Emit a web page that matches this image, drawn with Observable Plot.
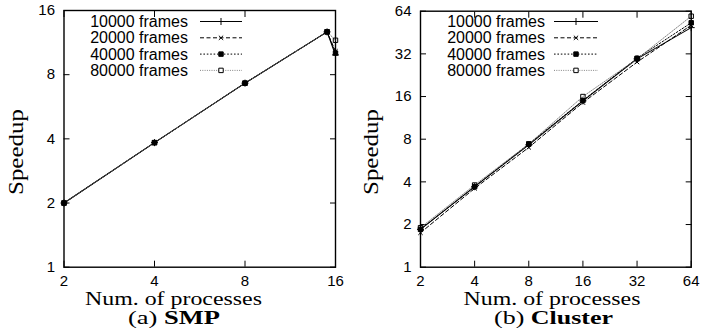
<!DOCTYPE html>
<html><head><meta charset="utf-8">
<script src="https://cdn.jsdelivr.net/npm/d3@7"></script>
<script src="https://cdn.jsdelivr.net/npm/@observablehq/plot@0.6"></script>
<style>
body{margin:0;background:#fff;}
#wrap{display:flex;width:701px;height:335px;overflow:hidden;}
svg text{fill:#000;}
</style></head><body><div id="wrap"></div>
<script>
// ---- data ----
const seriesNames = ["10000 frames", "20000 frames", "40000 frames", "80000 frames"];

const smpProcs = [2, 4, 8, 15, 16];
const smp10000 = [2.0, 3.84, 7.3, 12.7, 9.9];
const smp20000 = [2.0, 3.84, 7.3, 12.7, 10.3];
const smp40000 = [2.0, 3.84, 7.3, 12.7, 10.1];
const smp80000 = [2.0, 3.84, 7.3, 12.7, 11.6];

const clusterProcs = [2, 4, 8, 16, 32, 64];
const cluster10000 = [1.85, 3.7, 7.3, 14.9, 29.5, 49];
const cluster20000 = [1.75, 3.6, 7.0, 14.5, 28.0, 51];
const cluster40000 = [1.85, 3.7, 7.4, 15.0, 29.8, 53];
const cluster80000 = [1.9, 3.8, 7.4, 16.0, 29.5, 59];

const smpXTicks = [2, 4, 8, 16];
const smpYTicks = [1, 2, 4, 8, 16];
const clusterXTicks = [2, 4, 8, 16, 32, 64];
const clusterYTicks = [1, 2, 4, 8, 16, 32, 64];

// ---- styles ----
const dashes = [null, "4,2.5", "1.6,1.8", "1,1.3"];
const strokes = ["#000", "#000", "#000", "#666"];
const widths = [1.1, 1, 1, 0.8];
const symbols = ["plus", "times", "square", "square"];
const fills = ["none", "none", "#000", "none"];
const radii = [2.4, 2.1, 2.5, 2.5];

function tidy(procs, arrays) {
  const rows = [];
  arrays.forEach((arr, s) => arr.forEach((v, i) => rows.push({proc: procs[i], speedup: v, series: seriesNames[s]})));
  return rows;
}

const serifFont = "'Liberation Serif', 'DejaVu Serif', serif";
const sansFont = "'Liberation Sans', Arial, sans-serif";

function panel(opts) {
  const {width, marginLeft, marginRight, marginTop, marginBottom, xDomain, yDomain, xTicks, yTicks, rows} = opts;
  const marks = [
    Plot.frame({stroke: "black", strokeWidth: 1.4}),
    Plot.axisX(xTicks, {anchor: "bottom", tickSize: 0, tickPadding: 8, tickFormat: d => String(d), label: null}),
    Plot.axisX(xTicks, {anchor: "bottom", tickSize: 6, dy: -6, tickFormat: () => "", label: null}),
    Plot.axisX(xTicks, {anchor: "top", tickSize: 6, dy: 6, tickFormat: () => "", label: null}),
    Plot.axisY(yTicks, {anchor: "left", tickSize: 0, tickPadding: 9, tickFormat: d => String(d), label: null}),
    Plot.axisY(yTicks, {anchor: "left", tickSize: 6, dx: 6, tickFormat: () => "", label: null}),
    Plot.axisY(yTicks, {anchor: "right", tickSize: 6, dx: -6, tickFormat: () => "", label: null})
  ];
  seriesNames.forEach((name, s) => {
    const data = rows.filter(r => r.series === name);
    marks.push(Plot.line(data, {x: "proc", y: "speedup", stroke: strokes[s], strokeWidth: widths[s], strokeDasharray: dashes[s]}));
  });
  seriesNames.forEach((name, s) => {
    const data = rows.filter(r => r.series === name);
    marks.push(Plot.dot(data, {x: "proc", y: "speedup", symbol: () => symbols[s], r: radii[s],
      stroke: "#000", strokeWidth: 1, fill: fills[s]}));
  });
  return Plot.plot({
    width, height: 335, marginLeft, marginRight, marginTop, marginBottom,
    x: {type: "log", base: 2, domain: xDomain},
    y: {type: "log", base: 2, domain: yDomain},
    style: {fontFamily: sansFont, fontSize: "15px", color: "#000", background: "white", overflow: "visible"},
    marks
  });
}

function decorate(svg, o) {
  const g = d3.select(svg);
  // legend
  const leg = g.append("g");
  seriesNames.forEach((name, s) => {
    const y = o.legY0 + s * 16.3;
    leg.append("text").attr("x", o.legTextX).attr("y", y).attr("dy", "0.35em")
      .attr("text-anchor", "end").style("font-family", sansFont).style("font-size", "16px").text(name);
    leg.append("line").attr("x1", o.legLineX1).attr("x2", o.legLineX2).attr("y1", y).attr("y2", y)
      .attr("stroke", strokes[s]).attr("stroke-width", widths[s]).attr("stroke-dasharray", dashes[s]);
    const sym = {plus: d3.symbolPlus, times: d3.symbolTimes, square: d3.symbolSquare}[symbols[s]];
    const r = radii[s];
    leg.append("path").attr("transform", `translate(${(o.legLineX1 + o.legLineX2) / 2},${y})`)
      .attr("d", d3.symbol(sym, Math.PI * r * r)())
      .attr("stroke", "#000").attr("stroke-width", 1).attr("fill", fills[s] === "none" ? "#fff" : fills[s]);
  });
  // captions
  g.append("text").attr("transform", `translate(${o.ylabX},${o.ylabY}) rotate(-90)`)
    .attr("text-anchor", "middle").attr("textLength", 86).attr("lengthAdjust", "spacingAndGlyphs")
    .style("font-family", serifFont).style("font-size", "20px").text("Speedup");
  g.append("text").attr("x", o.xlabX).attr("y", 305).attr("text-anchor", "middle")
    .attr("textLength", 177).attr("lengthAdjust", "spacingAndGlyphs")
    .style("font-family", serifFont).style("font-size", "19px").text("Num. of processes");
  const cap = g.append("text").attr("x", o.capX).attr("y", 324).attr("text-anchor", "middle")
    .attr("textLength", o.capLen).attr("lengthAdjust", "spacingAndGlyphs")
    .style("font-family", serifFont).style("font-size", "19.5px");
  cap.append("tspan").text(o.capPrefix + " ");
  cap.append("tspan").style("font-weight", "bold").text(o.capBold);
}

const wrap = document.getElementById("wrap");

const left = panel({
  width: 350, marginLeft: 63.5, marginRight: 15, marginTop: 10, marginBottom: 68.3,
  xDomain: [2, 16], yDomain: [1, 16], xTicks: smpXTicks, yTicks: smpYTicks,
  rows: tidy(smpProcs, [smp10000, smp20000, smp40000, smp80000])
});
wrap.appendChild(left);
decorate(left, {legY0: 21.5, legTextX: 188, legLineX1: 200, legLineX2: 242,
  ylabX: 23, ylabY: 152, xlabX: 173.5, capX: 174, capLen: 92, capPrefix: "(a)", capBold: "SMP"});

const right = panel({
  width: 351, marginLeft: 70, marginRight: 10.3, marginTop: 10.7, marginBottom: 68.3,
  xDomain: [2, 64], yDomain: [1, 64], xTicks: clusterXTicks, yTicks: clusterYTicks,
  rows: tidy(clusterProcs, [cluster10000, cluster20000, cluster40000, cluster80000])
});
wrap.appendChild(right);
decorate(right, {legY0: 21.5, legTextX: 195, legLineX1: 204, legLineX2: 248,
  ylabX: 28, ylabY: 152, xlabX: 202, capX: 203.5, capLen: 119, capPrefix: "(b)", capBold: "Cluster"});
</script>
</body></html>
